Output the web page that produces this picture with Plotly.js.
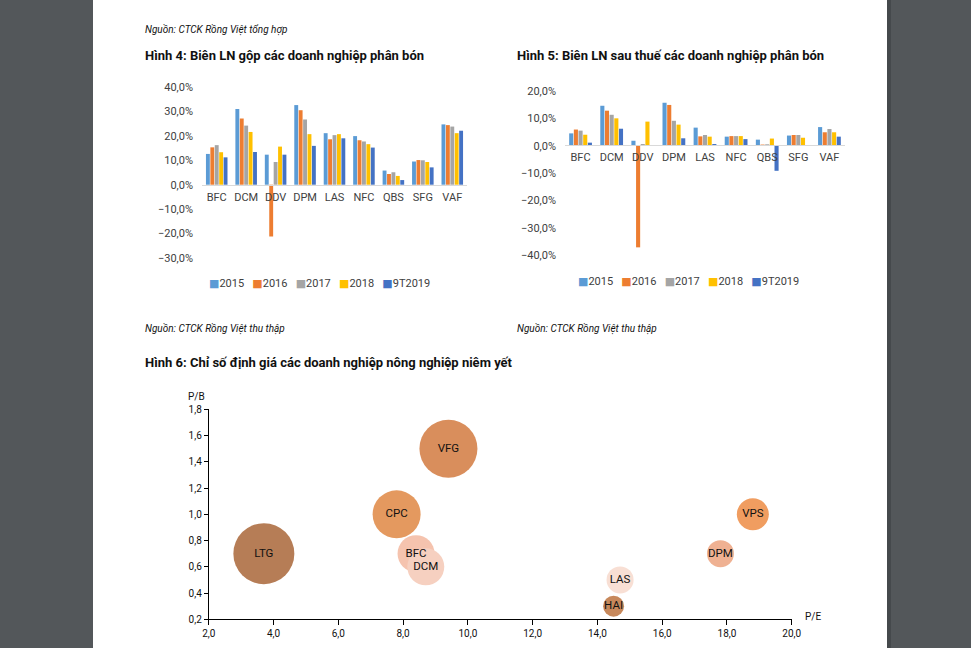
<!DOCTYPE html>
<html><head><meta charset="utf-8">
<script src="https://cdn.plot.ly/plotly-3.0.1.min.js"></script>
<style>html,body{margin:0;padding:0;background:#53575a;}#chart{width:971px;height:648px;}</style>
</head><body><div id="chart"></div>
<script>
// ---- Data ----
const categories = ['BFC','DCM','DDV','DPM','LAS','NFC','QBS','SFG','VAF'];
const seriesNames = ['2015','2016','2017','2018','9T2019'];
const seriesColors = ['#5b9bd5','#ed7d31','#a5a5a5','#ffc000','#4472c4'];

// Hình 4: Biên LN gộp (%)
const gross2015 = [12.6, 31.0, 12.3, 32.6, 21.1, 19.9, 5.8, 9.5, 24.7];
const gross2016 = [15.3, 27.1, -21.2, 30.5, 18.6, 18.2, 4.4, 10.1, 24.4];
const gross2017 = [16.2, 24.2, 9.3, 26.7, 20.3, 17.7, 5.1, 10.0, 23.8];
const gross2018 = [13.3, 21.6, 15.6, 20.7, 20.7, 16.6, 3.6, 9.3, 21.1];
const gross9T2019 = [11.2, 13.4, 12.3, 15.9, 19.0, 15.2, 1.9, 7.1, 22.1];

// Hình 5: Biên LN sau thuế (%)
const net2015 = [4.5, 14.6, 1.8, 15.7, 6.6, 3.3, 2.2, 3.7, 6.8];
const net2016 = [5.9, 12.8, -37.2, 14.9, 3.4, 3.5, 0.4, 3.9, 4.9];
const net2017 = [5.5, 11.3, 0.6, 9.1, 3.9, 3.5, 0.5, 3.9, 6.1];
const net2018 = [4.0, 10.0, 8.8, 7.7, 3.3, 3.5, 2.6, 2.9, 4.9];
const net9T2019 = [1.1, 6.2, 0.2, 2.7, 0.6, 2.4, -9.2, null, 3.3];

// Hình 6: Chỉ số định giá
const tickers = ['LTG','VFG','CPC','BFC','DCM','HAI','LAS','DPM','VPS'];
const peValues = [3.7, 9.4, 7.8, 8.4, 8.7, 14.5, 14.7, 17.8, 18.8];
const pbValues = [0.7, 1.5, 1.0, 0.7, 0.6, 0.3, 0.5, 0.7, 1.0];
const bubbleSizes = [61, 58, 48, 37, 37, 21, 27, 27, 32];
const bubbleColors = ['#b67d56','#d98e5c','#e4995f','#f5c3ae','#f6d0c0','#c7885b','#f8dfd4','#efb192','#f09d60'];

// ---- Layout helpers ----
const W = 971, H = 648;
const px = v => v / W;
const py = v => 1 - v / H;
const FONT = 'Roboto, "Open Sans", "DejaVu Sans", sans-serif';
const TXT = '#404040';

const grossSets = [gross2015, gross2016, gross2017, gross2018, gross9T2019];
const netSets = [net2015, net2016, net2017, net2018, net9T2019];

const traces = [];
grossSets.forEach((vals, i) => traces.push({
  type: 'bar', x: categories, y: vals, name: seriesNames[i], xaxis: 'x', yaxis: 'y',
  marker: {color: seriesColors[i], line: {width: 0}}, showlegend: false, hoverinfo: 'x+y+name'
}));
netSets.forEach((vals, i) => traces.push({
  type: 'bar', x: categories, y: vals, name: seriesNames[i], xaxis: 'x2', yaxis: 'y2',
  marker: {color: seriesColors[i], line: {width: 0}}, showlegend: false, hoverinfo: 'x+y+name'
}));
traces.push({
  type: 'scatter', mode: 'markers+text', x: peValues, y: pbValues, text: tickers,
  xaxis: 'x3', yaxis: 'y3', textposition: 'middle center', cliponaxis: false,
  textfont: {family: FONT, size: 11.5, color: '#111'},
  marker: {size: bubbleSizes, sizemode: 'diameter', sizeref: 1, color: bubbleColors, opacity: 1, line: {width: 0}},
  showlegend: false
});

const legendText = seriesNames.map((n, i) => `<span style="color:${seriesColors[i]}">■</span>${n}`).join('\u00a0\u00a0\u00a0');

const barX = (d, pos) => ({
  domain: d, anchor: 'free', position: pos, type: 'category',
  showline: true, linecolor: '#d9d9d9', linewidth: 1, ticks: '', showgrid: false, zeroline: false,
  tickfont: {family: FONT, size: 11, color: TXT}, ticklabelstandoff: 2, fixedrange: true
});
const barY = (d, r, anchor, pos) => ({
  domain: d, range: r, dtick: 10, tickformat: '.1f', ticksuffix: '%', anchor: 'free', position: pos,
  showgrid: false, zeroline: false, showline: false, ticks: '', ticklabelstandoff: 9,
  tickfont: {family: FONT, size: 11, color: TXT}, fixedrange: true
});

const ann = (x, y, text, opts = {}) => Object.assign({
  xref: 'paper', yref: 'paper', x: px(x), y: py(y), text: text, showarrow: false,
  xanchor: 'left', yanchor: 'middle', font: {family: FONT, size: 13, color: '#111'}
}, opts);

const layout = {
  width: W, height: H, margin: {l: 0, r: 0, t: 0, b: 0, pad: 0},
  paper_bgcolor: '#53575a', plot_bgcolor: 'rgba(0,0,0,0)',
  separators: ',.', showlegend: false,
  bargap: 0.25, bargroupgap: 0.12, barmode: 'group',
  font: {family: FONT, color: TXT},
  xaxis: barX([px(202), px(467)], py(185)),
  yaxis: barY([py(258), py(87)], [-30, 40], 'x', px(202)),
  xaxis2: barX([px(565), px(845)], py(145)),
  yaxis2: barY([py(255), py(91)], [-40, 20], 'x2', px(565)),
  xaxis3: {
    domain: [px(208.8), px(791.7)], range: [2, 20], dtick: 2, tick0: 2, tickformat: '.1f', anchor: 'y3',
    showline: true, linecolor: '#000', linewidth: 1, ticks: 'outside', ticklen: 5, tickcolor: '#000', tickwidth: 1,
    showgrid: false, zeroline: false, tickfont: {family: FONT, size: 10, color: '#111'}, fixedrange: true
  },
  yaxis3: {
    domain: [py(619.3), py(409.3)], range: [0.2, 1.8], dtick: 0.2, tick0: 0.2, tickformat: '.1f', anchor: 'x3',
    showline: true, linecolor: '#000', linewidth: 1, ticks: 'outside', ticklen: 4, tickcolor: '#000', tickwidth: 1,
    showgrid: false, zeroline: false, tickfont: {family: FONT, size: 10, color: '#111'}, fixedrange: true
  },
  shapes: [
    {type: 'rect', xref: 'paper', yref: 'paper', x0: px(93), x1: px(887), y0: 0, y1: 1,
     fillcolor: '#ffffff', line: {width: 0}, layer: 'below'},
    {type: 'rect', xref: 'paper', yref: 'paper', x0: px(887), x1: px(891), y0: 0, y1: 1,
     fillcolor: '#45494c', line: {width: 0}, layer: 'below'}
  ],
  annotations: [
    ann(143, 30, '<i>Nguồn: CTCK Rồng Việt tổng hợp</i>', {font: {family: FONT, size: 10, color: '#111'}}),
    ann(143, 55, '<b>Hình 4: Biên LN gộp các doanh nghiệp phân bón</b>'),
    ann(515, 55, '<b>Hình 5: Biên LN sau thuế các doanh nghiệp phân bón</b>'),
    ann(319, 284, legendText, {xanchor: 'center', font: {family: FONT, size: 11, color: TXT}}),
    ann(688, 281, legendText, {xanchor: 'center', font: {family: FONT, size: 11, color: TXT}}),
    ann(143, 328, '<i>Nguồn: CTCK Rồng Việt thu thập</i>', {font: {family: FONT, size: 10, color: '#111'}}),
    ann(515, 328, '<i>Nguồn: CTCK Rồng Việt thu thập</i>', {font: {family: FONT, size: 10, color: '#111'}}),
    ann(143, 362, '<b>Hình 6: Chỉ số định giá các doanh nghiệp nông nghiệp niêm yết</b>'),
    ann(196, 396, 'P/B', {xanchor: 'center', font: {family: FONT, size: 10, color: '#111'}}),
    ann(813, 616, 'P/E', {xanchor: 'center', font: {family: FONT, size: 10, color: '#111'}})
  ]
};

Plotly.newPlot('chart', traces, layout, {displayModeBar: false, staticPlot: true});
</script></body></html>
